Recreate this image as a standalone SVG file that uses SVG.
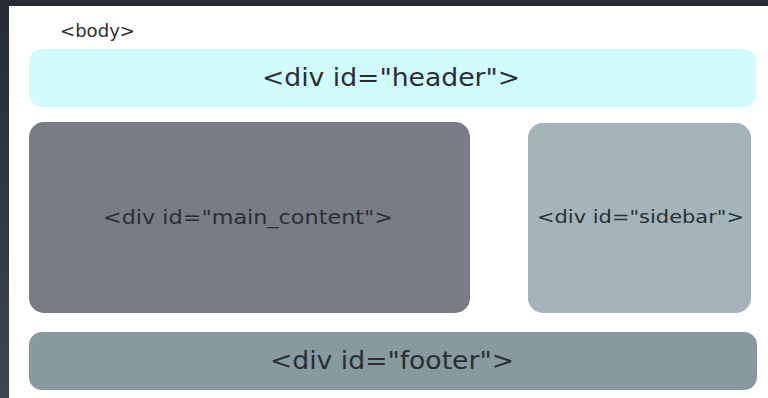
<svg xmlns="http://www.w3.org/2000/svg" width="768" height="398" viewBox="0 0 768 398">
<defs>
<linearGradient id="lg" x1="0" y1="0" x2="0" y2="1"><stop offset="0" stop-color="#262b33"/><stop offset="1" stop-color="#3b464e"/></linearGradient>
<style>
text{font-family:"DejaVu Sans","Liberation Sans",sans-serif;fill:#2a2e35;text-anchor:middle}
</style>
</defs>
<rect x="0" y="0" width="768" height="398" fill="#ffffff"/>
<rect x="0" y="0" width="768" height="6" fill="#262b33"/>
<rect x="0" y="0" width="9" height="398" fill="url(#lg)"/>
<g id="body"><text x="97.5" y="37" font-size="17" textLength="75" lengthAdjust="spacingAndGlyphs">&lt;body&gt;</text></g>
<g id="header"><rect x="29" y="49" width="727" height="58" rx="13" fill="#d0fcfd"/><text x="391" y="86" font-size="24" textLength="258" lengthAdjust="spacingAndGlyphs">&lt;div id="header"&gt;</text></g>
<g id="main_content"><rect x="29" y="122" width="441" height="191" rx="15" fill="#777c86"/><text x="248" y="224" font-size="19" textLength="290" lengthAdjust="spacingAndGlyphs">&lt;div id="main_content"&gt;</text></g>
<g id="sidebar"><rect x="528" y="123" width="223" height="190" rx="15" fill="#a3b4ba"/><text x="640.5" y="223" font-size="18" textLength="207" lengthAdjust="spacingAndGlyphs">&lt;div id="sidebar"&gt;</text></g>
<g id="footer"><rect x="29" y="332" width="728" height="58" rx="13" fill="#879a9e"/><text x="392" y="369" font-size="24" textLength="244" lengthAdjust="spacingAndGlyphs">&lt;div id="footer"&gt;</text></g>
<g id="connectors"/>
</svg>
